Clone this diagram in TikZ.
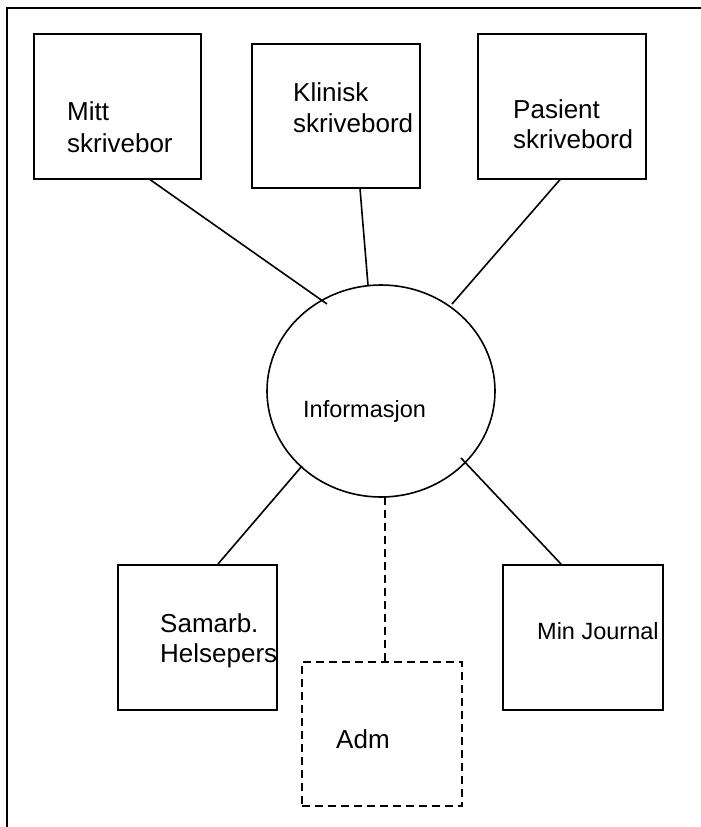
\documentclass[tikz,border=0pt]{standalone}
\usepackage{fontspec}
\setmainfont{Liberation Sans}
\usetikzlibrary{shapes.geometric}
\begin{document}
\begin{tikzpicture}[x=1pt,y=-1pt,
  box/.style={draw,line width=1.6pt,rectangle,inner sep=0pt,anchor=north west},
  admbox/.style={box,dashed,dash pattern=on 8pt off 5pt},
  hub/.style={draw,line width=1.6pt,ellipse,inner sep=0pt},
  biglabel/.style={inner sep=0pt,anchor=base west,align=left,
    font=\fontsize{26pt}{31pt}\selectfont},
  smalllabel/.style={inner sep=0pt,anchor=base west,
    font=\fontsize{23.5pt}{28pt}\selectfont},
  link/.style={line width=1.6pt},
  dlink/.style={line width=1.6pt,dash pattern=on 8pt off 5pt}]
\useasboundingbox (0,0) rectangle (701,827);

% frame on the left and top edges
\draw[line width=1.8pt] (7,827) -- (7,8) -- (701,8);

% boxes
\node[box,minimum width=167pt,minimum height=145pt] (mitt) at (33,33) {};
\node[box,minimum width=168pt,minimum height=144pt] (klin) at (251,43) {};
\node[box,minimum width=168pt,minimum height=145pt] (pas)  at (477,33) {};
\node[box,minimum width=159pt,minimum height=145pt] (sam)  at (117,564) {};
\node[box,minimum width=160pt,minimum height=145pt] (mj)   at (502,564) {};
\node[admbox,minimum width=160pt,minimum height=144pt] (adm) at (301,661) {};

% central hub
\node[hub,minimum width=228pt,minimum height=212pt] (info) at (381,391) {};

% labels (anchored on the baseline of their last line)
\node[biglabel] (mittT) at (67,152) {Mitt\\[1pt]skrivebor};
\node[biglabel] (klinT) at (293,132) {Klinisk\\skrivebord};
\node[biglabel,font=\fontsize{26pt}{30pt}\selectfont] (pasT) at (513,148) {Pasient\\skrivebord};
\node[biglabel,font=\fontsize{26pt}{30pt}\selectfont] (samT) at (160,662) {Samarb.\\Helsepers};
\node[smalllabel] (infoT) at (303,417) {Informasjon};
\node[smalllabel] (mjT) at (537,639) {Min Journal};
\node[biglabel] (admT) at (336,748) {Adm};

% connectors
\draw[link] ([xshift=117pt]mitt.south west) -- ([shift={(-54,-87)}]info.center);
\draw[link] ([xshift=109pt]klin.south west) -- ([shift={(-13,-106)}]info.center);
\draw[link] ([xshift=83pt]pas.south west)   -- ([shift={(71,-87)}]info.center);
\draw[link] ([shift={(-79,75)}]info.center) -- ([xshift=101pt]sam.north west);
\draw[link] ([shift={(80,67)}]info.center)  -- ([xshift=59pt]mj.north west);
\draw[dlink] ([shift={(4,106)}]info.center) -- ([xshift=84pt]adm.north west);
\end{tikzpicture}
\end{document}
